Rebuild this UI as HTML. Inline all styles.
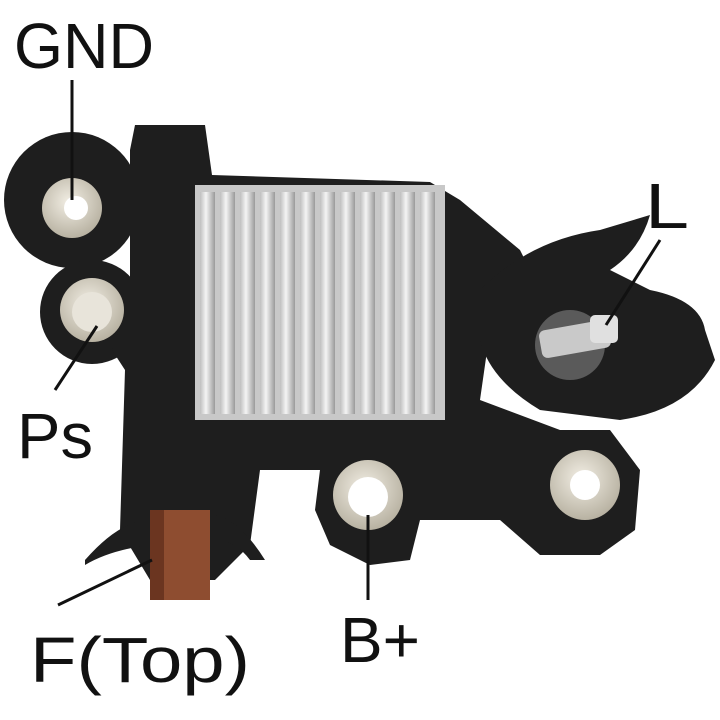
<!DOCTYPE html>
<html><head><meta charset="utf-8"><style>
html,body{margin:0;padding:0;background:#fff}
svg{display:block}
text{font-family:"Liberation Sans",sans-serif;fill:#111}
</style></head><body>
<svg width="720" height="720" viewBox="0 0 720 720" xmlns="http://www.w3.org/2000/svg">
<defs>
<linearGradient id="fin" x1="0" x2="1" y1="0" y2="0">
<stop offset="0" stop-color="#bfbfbf"/><stop offset="0.4" stop-color="#f4f4f4"/><stop offset="1" stop-color="#9a9a9a"/>
</linearGradient>
<radialGradient id="wash" cx="0.45" cy="0.4" r="0.6">
<stop offset="0" stop-color="#f2eee4"/><stop offset="1" stop-color="#b8b2a2"/>
</radialGradient>
</defs>
<rect width="720" height="720" fill="#fff"/>
<g fill="#1e1e1e">
<circle cx="72" cy="200" r="68"/>
<circle cx="92" cy="312" r="52"/>
<path d="M135 125 L205 125 L212 175 L430 182 L460 200 L520 250 L540 290 L490 330 L480 400 L560 430 L610 430 L640 470 L635 530 L600 555 L540 555 L500 520 L420 520 L410 560 L370 565 L330 545 L315 510 L320 470 L260 470 L250 545 L215 580 L150 580 L120 530 L125 370 L112 350 L130 300 L130 150 Z"/>
<path d="M480 290 Q530 240 600 230 L650 215 Q640 250 610 270 L650 290 Q700 300 705 330 L715 360 Q690 410 620 420 L540 410 Q490 380 480 340 Z"/>
<path d="M85 560 Q120 520 150 520 L150 545 Q110 550 85 565 Z"/>
<path d="M215 515 Q240 520 265 560 L250 560 Q235 540 215 540 Z"/>
</g>
<rect x="195" y="185" width="250" height="235" fill="#c8c8c8"/>
<g fill="url(#fin)">
<rect x="200" y="192" width="15" height="222"/><rect x="220" y="192" width="15" height="222"/>
<rect x="240" y="192" width="15" height="222"/><rect x="260" y="192" width="15" height="222"/>
<rect x="280" y="192" width="15" height="222"/><rect x="300" y="192" width="15" height="222"/>
<rect x="320" y="192" width="15" height="222"/><rect x="340" y="192" width="15" height="222"/>
<rect x="360" y="192" width="15" height="222"/><rect x="380" y="192" width="15" height="222"/>
<rect x="400" y="192" width="15" height="222"/><rect x="420" y="192" width="15" height="222"/>
</g>
<circle cx="72" cy="208" r="30" fill="url(#wash)"/><circle cx="76" cy="208" r="12" fill="#fff"/>
<circle cx="92" cy="310" r="32" fill="url(#wash)"/><circle cx="92" cy="312" r="20" fill="#e8e4da"/>
<circle cx="368" cy="495" r="35" fill="url(#wash)"/><circle cx="368" cy="497" r="20" fill="#fff"/>
<circle cx="585" cy="485" r="35" fill="url(#wash)"/><circle cx="585" cy="485" r="15" fill="#fff"/>
<circle cx="570" cy="345" r="35" fill="#5a5a5a"/>
<rect x="540" y="325" width="70" height="28" rx="6" fill="#c9c9c9" transform="rotate(-10 575 339)"/>
<rect x="590" y="315" width="28" height="28" rx="5" fill="#e0e0e0"/>
<rect x="150" y="510" width="60" height="90" fill="#8e4d30"/>
<rect x="150" y="510" width="14" height="90" fill="#6b3520"/>
<g stroke="#111" stroke-width="3" fill="none">
<line x1="72" y1="80" x2="72" y2="200"/>
<line x1="55" y1="390" x2="97" y2="326"/>
<line x1="660" y1="240" x2="606" y2="325"/>
<line x1="58" y1="605" x2="152" y2="560"/>
<line x1="368" y1="515" x2="368" y2="600"/>
</g>
<text x="14" y="68" font-size="64" textLength="140" lengthAdjust="spacingAndGlyphs">GND</text>
<text x="17" y="458" font-size="64" textLength="76" lengthAdjust="spacingAndGlyphs">Ps</text>
<text x="645" y="228" font-size="64" textLength="44" lengthAdjust="spacingAndGlyphs">L</text>
<text x="30" y="682" font-size="64" textLength="220" lengthAdjust="spacingAndGlyphs">F(Top)</text>
<text x="340" y="662" font-size="64" textLength="80" lengthAdjust="spacingAndGlyphs">B+</text>
</svg>
</body></html>
